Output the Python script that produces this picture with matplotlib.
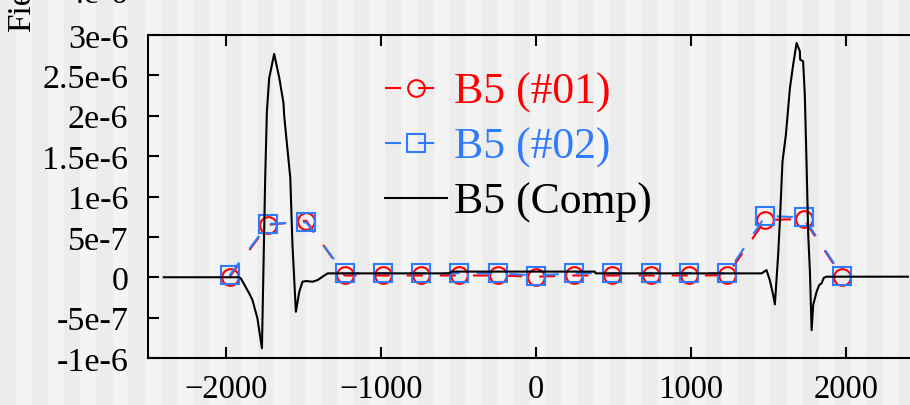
import matplotlib
matplotlib.use("Agg")
import matplotlib.pyplot as plt
import numpy as np

plt.rcParams['font.family'] = ['Liberation Serif', 'DejaVu Serif']

# probe positions along the axis and the two measured series (values in T)
x_probe = [-1975, -1728, -1481, -1234, -988, -741, -494, -247, 0,
           247, 494, 741, 988, 1234, 1481, 1728, 1975]
b5_01 = [0.007e-6, 0.648e-6, 0.700e-6, 0.022e-6, 0.022e-6, 0.022e-6, 0.022e-6,
         0.022e-6, 0.007e-6, 0.022e-6, 0.022e-6, 0.022e-6, 0.022e-6, 0.024e-6,
         0.710e-6, 0.720e-6, 0.007e-6]
b5_02 = [0.024e-6, 0.660e-6, 0.680e-6, 0.048e-6, 0.050e-6, 0.050e-6, 0.050e-6,
         0.050e-6, 0.021e-6, 0.050e-6, 0.050e-6, 0.050e-6, 0.050e-6, 0.048e-6,
         0.760e-6, 0.740e-6, 0.020e-6]

# computed profile
comp_x = [-2400, -1914, -1903, -1849, -1828, -1796, -1767, -1746, -1735, -1720,
          -1709, -1688, -1655, -1628, -1623, -1584, -1570, -1559, -1548, -1526,
          -1505, -1483, -1440, -1408, -1376, -1343, -560, -544, 380, 386,
          1456, 1488, 1509, 1531, 1542, 1553, 1563, 1574, 1591, 1613, 1639,
          1660, 1682, 1703, 1705, 1724, 1735, 1746, 1757, 1768, 1779, 1789,
          1811, 1828, 1843, 1858, 1876, 2400]
comp_y = [0.0, 0.0, -0.014e-6, -0.20e-6, -0.283e-6, -0.51e-6, -0.88e-6, 1.227e-6,
          2.055e-6, 2.468e-6, 2.571e-6, 2.766e-6, 2.468e-6, 2.158e-6, 1.993e-6,
          1.227e-6, 0.40e-6, -0.014e-6, -0.427e-6, -0.179e-6, -0.055e-6,
          -0.047e-6, -0.055e-6, -0.035e-6, 0.007e-6, 0.048e-6, 0.048e-6,
          0.07e-6, 0.07e-6, 0.048e-6, 0.048e-6, 0.089e-6, -0.035e-6, -0.22e-6,
          -0.336e-6, -0.014e-6, 0.275e-6, 0.69e-6, 1.434e-6, 1.764e-6, 2.344e-6,
          2.633e-6, 2.902e-6, 2.799e-6, 2.695e-6, 2.675e-6, 2.26e-6, 1.434e-6,
          0.524e-6, 0.069e-6, -0.655e-6, -0.345e-6, -0.179e-6, -0.097e-6,
          -0.076e-6, -0.005e-6, 0.007e-6, 0.007e-6]

y_ticks = [-1e-6, -5e-7, 0, 5e-7, 1e-6, 1.5e-6, 2e-6, 2.5e-6, 3e-6]
y_tick_labels = ['-1e-6', '-5e-7', '0', '5e-7', '1e-6', '1.5e-6', '2e-6',
                 '2.5e-6', '3e-6']
x_ticks = [-2000, -1000, 0, 1000, 2000]
x_tick_labels = ['\u22122000', '\u22121000', '0', '1000', '2000']

W, H = 910, 406
fig = plt.figure(figsize=(W / 100, H / 100), dpi=100)
fig.patch.set_facecolor('#f4f4f4')

# vertical striped backdrop
bg = fig.add_axes([0, 0, 1, 1], zorder=-10)
bg.set_xlim(0, W)
bg.set_ylim(0, H)
bg.axis('off')
stripe_x = np.arange(0, W, 32.1)
bg.bar(stripe_x, H, width=16.2, align='edge', color='#ececec', lw=0)

ax = fig.add_axes([148.3 / W, 47 / H, 775.1 / W, 323 / H])
ax.patch.set_alpha(0)

red = '#ff0000'
blue = '#2f7bff'
ax.plot(x_probe, b5_01, color=red, lw=1.5, ls=(0, (7.7, 8.2)), marker='o',
        ms=12, mfc='none', mew=1.5, label='B5 (#01)')
ax.plot(x_probe, b5_02, color=blue, lw=1.5, ls=(0, (7.7, 8.2)), marker='s',
        ms=13, mfc='none', mew=1.5, label='B5 (#02)')
ax.plot(comp_x, comp_y, color='black', lw=1.5, label='B5 (Comp)')

ax.set_xlim(-2500, 2500)
ax.set_ylim(-1e-6, 3e-6)
ax.set_xticks(x_ticks)
ax.set_xticklabels(x_tick_labels)
ax.set_yticks(y_ticks)
ax.set_yticklabels(y_tick_labels)
ax.tick_params(direction='in', length=8, width=1.5, top=True, right=True,
               colors='black')
ax.tick_params(axis='y', labelsize=24.5, pad=14.4)
ax.tick_params(axis='x', labelsize=23.5, pad=11.5)
for sp in ax.spines.values():
    sp.set_linewidth(1.5)

leg = ax.legend(loc='upper left', bbox_to_anchor=(385 / W, (H - 73) / H),
                bbox_transform=fig.transFigure, frameon=False, fontsize=31.5,
                handlelength=1.42, handletextpad=0.15, labelspacing=0.33,
                borderpad=0, borderaxespad=0)
for txt, ln in zip(leg.get_texts(), leg.get_lines()):
    txt.set_color(ln.get_color())

fig.text(22 / W, (H - 32) / H, 'Field', rotation=90, ha='center',
         va='bottom', fontsize=24)
fig.text(128 / W, (H - 3) / H, '4e-6', ha='right', va='baseline',
         fontsize=24.5)

fig.savefig('out.png', dpi=100, facecolor=fig.get_facecolor())
